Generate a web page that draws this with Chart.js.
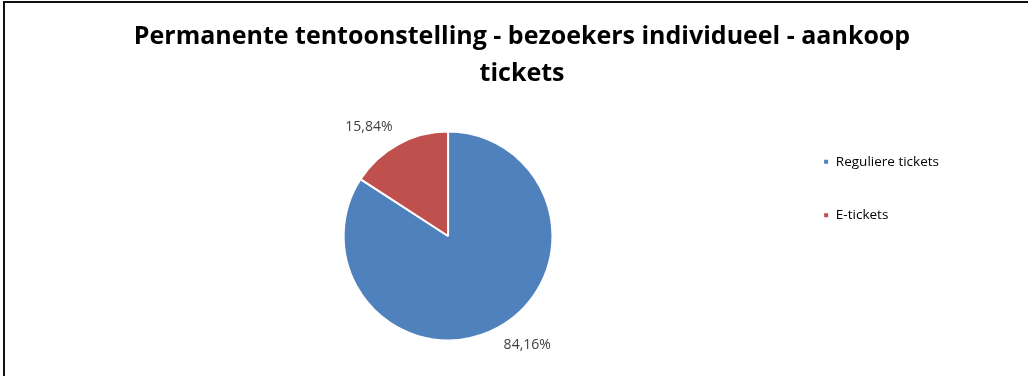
<!DOCTYPE html>
<html>
<head>
<meta charset="utf-8">
<script src="https://cdn.jsdelivr.net/npm/chart.js@4.4.0/dist/chart.umd.min.js"></script>
<style>
  html, body { margin: 0; padding: 0; background: #fff; }
  #wrap { position: relative; width: 1030px; height: 376px; }
  #frame { position: absolute; left: 3px; top: 1px; right: 2px; bottom: -4px;
           border-top: 2px solid #111; border-left: 2px solid #111; pointer-events: none; }
</style>
</head>
<body>
<div id="wrap">
  <canvas id="pie" width="1030" height="376"></canvas>
  <div id="frame"></div>
</div>
<script>
const categories = ['Reguliere tickets', 'E-tickets'];
const shares = [84.16, 15.84];
const colors = ['#4F81BD', '#C0504D'];
const title_lines = ['Permanente tentoonstelling - bezoekers individueel - aankoop', 'tickets'];

const fmt = v => v.toFixed(2).replace('.', ',') + '%';

// labels just outside each slice, like excel's "outside end"
const outsideLabels = {
  id: 'outsideLabels',
  afterDatasetsDraw(chart) {
    const ctx = chart.ctx;
    const meta = chart.getDatasetMeta(0);
    ctx.save();
    ctx.font = '14px "Open Sans", sans-serif';
    ctx.fillStyle = '#404040';
    meta.data.forEach((arc, i) => {
      const mid = (arc.startAngle + arc.endAngle) / 2;
      const r = arc.outerRadius + 12;
      const x = arc.x + Math.cos(mid) * r;
      const y = arc.y + Math.sin(mid) * r;
      ctx.textAlign = Math.cos(mid) < 0 ? 'right' : 'left';
      ctx.textBaseline = Math.sin(mid) < 0 ? 'bottom' : 'top';
      ctx.fillText(fmt(shares[i]), x, y);
    });
    ctx.restore();
  }
};

// title is centred on the whole frame, not on the padded area
const titleCenter = {
  id: 'titleCenter',
  afterLayout(chart) {
    const t = chart.titleBlock;
    const d = 522 - (t.left + t.right) / 2;
    t.left += d;
    t.right += d;
  }
};

const ctx = document.getElementById('pie').getContext('2d');

const chart = new Chart(ctx, {
  type: 'pie',
  data: {
    labels: categories,
    datasets: [{
      data: shares,
      backgroundColor: colors,
      borderColor: '#ffffff',
      borderWidth: 2,
      radius: '87%'
    }]
  },
  options: {
    responsive: false,
    animation: false,
    layout: {
      padding: { top: 10, bottom: 19, left: 113, right: 81 }
    },
    plugins: {
      title: {
        display: true,
        text: title_lines,
        color: '#000',
        font: { family: '"Open Sans"', size: 25, weight: 'bold', lineHeight: 1.48 },
        padding: { top: 8, bottom: 23 }
      },
      legend: {
        position: 'right',
        align: 'start',
        fullSize: false,
        labels: {
          boxWidth: 6,
          boxHeight: 6,
          padding: 40,
          color: '#000',
          font: { family: '"Open Sans"', size: 13.5 }
        }
      },
      tooltip: { enabled: false }
    }
  },
  plugins: [outsideLabels, titleCenter]
});
</script>
</body>
</html>
